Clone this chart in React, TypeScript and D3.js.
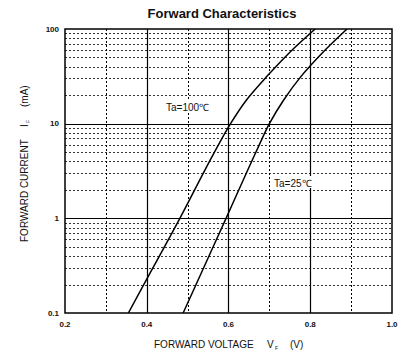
import React from "react";
import * as d3 from "d3";

const W = 417;
const H = 358;

// Data (current in mA, voltage in V)
const currents = [0.1, 0.316, 1, 3.16, 5.62, 10, 17.8, 31.6, 56.2, 100];
const vf100 = [0.355, 0.418, 0.481, 0.541, 0.572, 0.605, 0.644, 0.694, 0.749, 0.812];
const vf25 = [0.489, 0.5415, 0.594, 0.646, 0.6725, 0.7, 0.735, 0.7775, 0.83, 0.89];

const xTicks = [0.2, 0.4, 0.6, 0.8, 1.0];
const xMinor = [0.3, 0.5, 0.7, 0.9];
const yTicks = [0.1, 1, 10, 100];
const yTickLabels = ["0.1", "1", "10", "100"];

const seriesLabels = ["Ta=100\u2103", "Ta=25\u2103"];

const margin = { left: 65, right: 25, top: 29, bottom: 45 };

export default function App() {
  const x = d3.scaleLinear().domain([0.2, 1.0]).range([margin.left, W - margin.right]);
  const y = d3.scaleLog().domain([0.1, 100]).range([H - margin.bottom, margin.top]);

  const yMinor: number[] = [];
  [0.1, 1, 10].forEach((d) => {
    for (let k = 2; k <= 9; k++) yMinor.push(d * k);
  });

  const line = d3
    .line<[number, number]>()
    .x((d) => x(d[0]))
    .y((d) => y(d[1]))
    .curve(d3.curveCatmullRom.alpha(0.5));

  const p100 = line(currents.map((c, i) => [vf100[i], c] as [number, number])) || "";
  const p25 = line(currents.map((c, i) => [vf25[i], c] as [number, number])) || "";

  const x0 = x(0.2), x1 = x(1.0), y0 = y(0.1), y1 = y(100);
  const font = "Arial, 'Liberation Sans', sans-serif";

  return (
    <div style={{ position: "fixed", left: 0, top: 0, width: W, height: H, background: "#fff" }}>
      <svg width={W} height={H} style={{ display: "block" }} fontFamily={font}>
        <rect x={0} y={0} width={W} height={H} fill="#fff" />
        <text x={222} y={18} textAnchor="middle" fontSize={13} fontWeight="bold" fill="#111">
          Forward Characteristics
        </text>
        <defs>
          <clipPath id="plot">
            <rect x={x0} y={y1} width={x1 - x0} height={y0 - y1} />
          </clipPath>
        </defs>
        {/* minor horizontal grid */}
        {yMinor.map((v) => (
          <line key={"hm" + v} x1={x0} x2={x1} y1={Math.round(y(v)) + 0.5} y2={Math.round(y(v)) + 0.5}
            stroke="#333" strokeWidth={1} strokeDasharray="2,2" />
        ))}
        {/* minor vertical grid */}
        {xMinor.map((v) => (
          <line key={"vm" + v} x1={Math.round(x(v)) + 0.5} x2={Math.round(x(v)) + 0.5} y1={y1} y2={y0}
            stroke="#000" strokeWidth={1} strokeDasharray="2,2" />
        ))}
        {/* major grid */}
        {yTicks.slice(1, -1).map((v) => (
          <line key={"hM" + v} x1={x0} x2={x1} y1={Math.round(y(v)) + 0.5} y2={Math.round(y(v)) + 0.5}
            stroke="#000" strokeWidth={1.2} />
        ))}
        {xTicks.slice(1, -1).map((v) => (
          <line key={"vM" + v} x1={Math.round(x(v)) + 0.5} x2={Math.round(x(v)) + 0.5} y1={y1} y2={y0}
            stroke="#000" strokeWidth={1.2} />
        ))}
        {/* labels in plot */}
        <rect x={163} y={100} width={44} height={12} fill="#fff" />
        <text x={166} y={111} fontSize={10} fill="#111">{seriesLabels[0]}</text>
        <rect x={272} y={176} width={40} height={12} fill="#fff" />
        <text x={274} y={187} fontSize={10} fill="#111">{seriesLabels[1]}</text>
        {/* curves */}
        <g clipPath="url(#plot)">
          <path d={p100} fill="none" stroke="#000" strokeWidth={1.5} />
          <path d={p25} fill="none" stroke="#000" strokeWidth={1.5} />
        </g>
        {/* frame */}
        <rect x={x0} y={y1} width={x1 - x0} height={y0 - y1} fill="none" stroke="#000" strokeWidth={1.5} />
        {/* tick labels */}
        {yTicks.map((v, i) => (
          <text key={"yt" + v} x={59} y={y(v) + 2.5} textAnchor="end" fontSize={8} fontWeight="bold" fill="#111">
            {yTickLabels[i]}
          </text>
        ))}
        {xTicks.map((v) => (
          <text key={"xt" + v} x={x(v)} y={327} textAnchor="middle" fontSize={8} fontWeight="bold" fill="#111">
            {v.toFixed(1)}
          </text>
        ))}
        {/* axis titles */}
        <text x={154} y={348} fontSize={10} fill="#111">
          FORWARD VOLTAGE
        </text>
        <text x={267} y={348} fontSize={10} fill="#111">V</text>
        <text x={275} y={350} fontSize={5} fill="#111">F</text>
        <text x={290} y={348} fontSize={10} fill="#111">(V)</text>
        <g transform="translate(28,242) rotate(-90)">
          <text x={0} y={0} fontSize={10} fill="#111">FORWARD CURRENT</text>
          <text x={115} y={0} fontSize={10} fill="#111">I</text>
          <text x={119} y={2} fontSize={5} fill="#111">F</text>
          <text x={135} y={0} fontSize={10} fill="#111">(mA)</text>
        </g>
      </svg>
    </div>
  );
}
